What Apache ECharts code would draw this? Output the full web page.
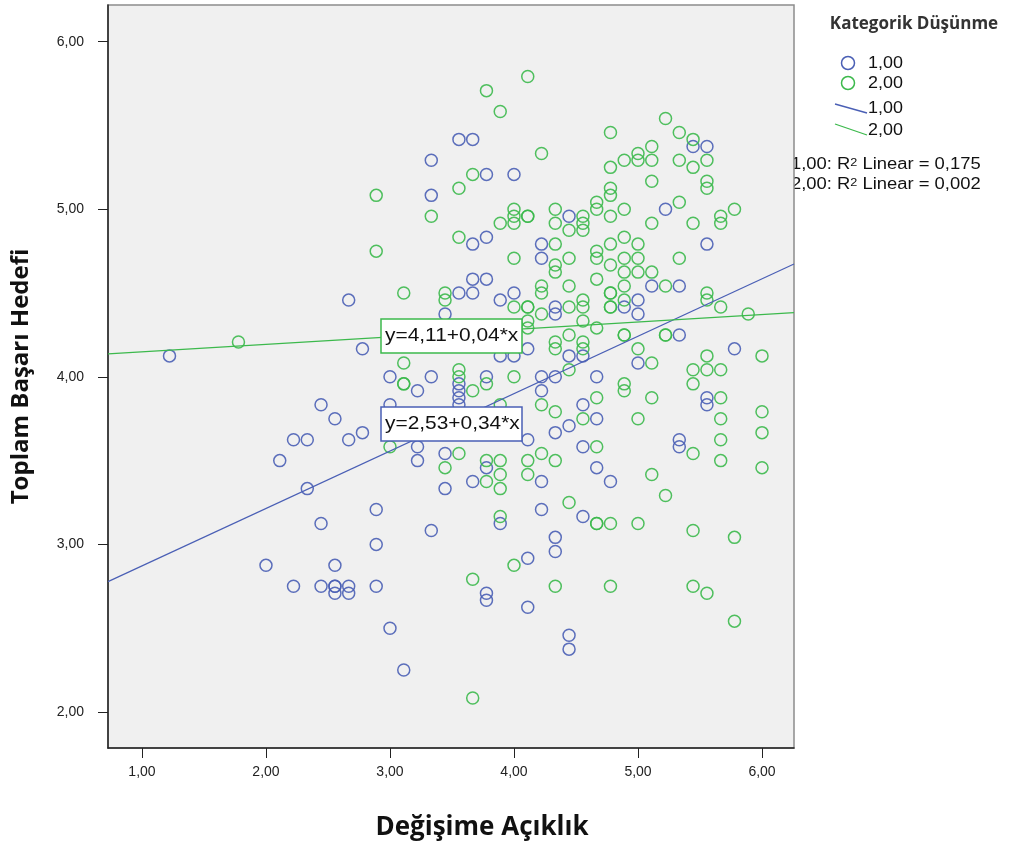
<!DOCTYPE html>
<html><head><meta charset="utf-8">
<script src="https://cdn.jsdelivr.net/npm/echarts@6/dist/echarts.min.js"></script>
<style>html,body{margin:0;padding:0;background:#fff}#c{width:1013px;height:848px}</style>
</head><body><div id="c"></div>
<script>
// ---- data ----
const xTicks = [1, 2, 3, 4, 5, 6];
const yTicks = [2, 3, 4, 5, 6];
const groupNames = ['1,00', '2,00'];
const xTitle = 'Değişime Açıklık';
const yTitle = 'Toplam Başarı Hedefi';
const legendTitle = 'Kategorik Düşünme';
const xRange = [0.726, 6.258];
const yRange = [1.785, 6.219];
// group 1 (Kategorik Düşünme = 1,00) : [Değişime Açıklık, Toplam Başarı Hedefi]
const group1 = [
[3.556,5.417],[3.667,5.417],[3.333,5.292],[3.778,5.208],[4.0,5.208],[3.333,5.083],[4.444,4.958],[3.667,4.792],[3.778,4.833],[4.222,4.792],
[5.444,5.375],[5.556,5.375],[5.222,5.0],[5.556,4.792],
[5.111,4.542],[5.333,4.542],[5.0,4.458],[4.889,4.417],[5.0,4.375],[5.333,4.25],[4.444,4.125],[4.556,4.125],[5.0,4.083],[5.778,4.167],
[4.667,4.0],[4.556,3.833],[5.556,3.875],[5.556,3.833],[4.444,3.708],[4.667,3.75],[4.556,3.583],[5.333,3.625],[5.333,3.583],[4.667,3.458],[4.778,3.375],
[4.556,3.167],[4.444,2.458],[4.444,2.375],
[2.889,3.208],[3.333,3.083],[2.889,3.0],[2.556,2.875],[2.556,2.75],[2.556,2.75],[2.556,2.708],[2.667,2.75],[2.667,2.708],[2.889,2.75],[3.0,2.5],[3.111,2.25],
[3.778,2.708],[3.778,2.667],[3.889,3.125],[4.222,3.208],[4.111,2.917],[4.111,2.625],[4.333,3.042],[4.333,2.958],
[2.444,3.125],[2.0,2.875],[2.222,2.75],[2.444,2.75],
[1.222,4.125],[2.444,3.833],[2.556,3.75],[2.222,3.625],[2.333,3.625],[2.111,3.5],[2.333,3.333],
[4.222,4.708],[3.667,4.583],[3.778,4.583],[3.556,4.5],[3.667,4.5],[2.667,4.458],[3.889,4.458],[4.0,4.5],[4.333,4.417],[4.333,4.375],[3.444,4.375],
[2.778,4.167],[3.889,4.125],[4.0,4.125],[4.111,4.167],[3.556,3.958],[3.556,3.917],[3.556,3.875],[3.556,3.833],[3.0,4.0],[3.333,4.0],[3.222,3.917],
[3.778,4.0],[4.222,4.0],[4.333,4.0],[4.222,3.917],[4.333,3.667],[3.0,3.833],[2.778,3.667],[2.667,3.625],[3.222,3.583],[3.222,3.5],[3.444,3.542],
[4.111,3.625],[3.778,3.458],[3.667,3.375],[3.444,3.333],[4.222,3.375]
];
// group 2 (Kategorik Düşünme = 2,00)
const group2 = [
[4.111,5.792],[3.778,5.708],[3.889,5.583],[4.222,5.333],[3.667,5.208],[2.889,5.083],[3.556,5.125],[3.333,4.958],[4.0,5.0],[4.0,4.958],
[4.111,4.958],[4.111,4.958],[3.889,4.917],[4.0,4.917],[4.333,5.0],[4.333,4.917],[4.444,4.875],[3.556,4.833],[2.889,4.75],[4.333,4.792],
[5.222,5.542],[4.778,5.458],[5.333,5.458],[5.444,5.417],[5.111,5.375],[5.0,5.333],[5.0,5.292],[4.889,5.292],[5.111,5.292],[5.333,5.292],
[5.444,5.25],[5.556,5.292],[4.778,5.25],[5.111,5.167],[5.556,5.167],[5.556,5.125],[4.778,5.125],[4.778,5.083],[4.667,5.042],[4.667,5.0],
[4.556,4.958],[4.556,4.917],[4.556,4.875],[4.778,4.958],[4.889,5.0],[5.333,5.042],[5.111,4.917],[5.444,4.917],[5.667,4.958],[5.667,4.917],
[5.778,5.0],[4.667,4.75],[4.778,4.792],[4.889,4.833],[5.0,4.792],
[4.444,4.708],[4.667,4.708],[4.778,4.667],[4.889,4.708],[5.0,4.708],[5.0,4.625],[4.889,4.625],[5.111,4.625],[5.333,4.708],[4.667,4.583],
[4.444,4.542],[4.889,4.542],[5.222,4.542],[4.778,4.5],[4.778,4.5],[4.778,4.417],[4.778,4.417],[4.556,4.458],[4.556,4.417],[4.444,4.417],
[4.889,4.458],[4.556,4.333],[4.667,4.292],[4.444,4.25],[4.889,4.25],[4.889,4.25],[5.222,4.25],[5.222,4.25],[5.556,4.5],[5.556,4.458],
[5.667,4.417],[5.889,4.375],[4.556,4.208],[4.556,4.167],[4.444,4.042],[5.0,4.167],[5.111,4.083],[6.0,4.125],[5.556,4.125],[5.444,4.042],
[5.556,4.042],[5.667,4.042],[5.444,3.958],[4.889,3.958],[4.889,3.917],[4.667,3.875],[5.111,3.875],[5.667,3.875],[4.556,3.75],[5.0,3.75],
[5.667,3.75],[6.0,3.792],[6.0,3.667],[4.667,3.583],[5.667,3.625],[5.444,3.542],[5.667,3.5],[5.111,3.417],[6.0,3.458],[5.222,3.292],
[4.444,3.25],[4.667,3.125],[4.667,3.125],[4.778,3.125],[5.0,3.125],[5.444,3.083],[5.778,3.042],[4.778,2.75],[5.444,2.75],[5.556,2.708],[5.778,2.542],
[3.667,2.792],[3.667,2.083],[3.889,3.167],[4.0,2.875],[4.333,2.75],
[1.778,4.208],
[4.0,4.708],[4.333,4.667],[4.333,4.625],[3.444,4.5],[3.111,4.5],[3.444,4.458],[4.0,4.417],[4.111,4.417],[4.111,4.417],[4.222,4.542],
[4.222,4.5],[4.222,4.375],[4.111,4.333],[4.111,4.292],[4.333,4.208],[4.333,4.167],[3.111,4.083],[3.556,4.042],[3.556,4.0],[3.111,3.958],
[3.111,3.958],[3.778,3.958],[3.667,3.917],[4.0,4.0],[4.222,3.833],[4.333,3.792],[3.889,3.833],[3.0,3.583],[3.444,3.458],[3.556,3.542],
[3.778,3.5],[3.778,3.375],[3.889,3.5],[3.889,3.417],[3.889,3.333],[4.111,3.5],[4.111,3.417],[4.222,3.542],[4.333,3.5]
];
// linear fits per group (intercept, slope) and labels
const fitIntercept = [2.529, 4.105];
const fitSlope = [0.3427, 0.0445];
const fitLabels = ['y=2,53+0,34*x', 'y=4,11+0,04*x'];
const r2Values = ['0,175', '0,002'];

// ---- styles ----
const BLUE = '#4a5fb5', GREEN = '#3cb94c';
const colors = [BLUE, GREEN];
const fmt = v => v.toFixed(2).replace('.', ',');
const ARIAL = '"Liberation Sans", Arial, sans-serif';
const TITLEFONT = '"Open Sans", sans-serif';

const chart = echarts.init(document.getElementById('c'), null, {renderer: 'canvas'});

function fitLine(i) {
  return [xRange[0], xRange[1]].map(x => [x, fitIntercept[i] + fitSlope[i] * x]);
}
function scatter(data, i) {
  return {
    type: 'scatter', data: data, symbol: 'circle', symbolSize: 12, z: 2,
    itemStyle: {color: 'rgba(0,0,0,0)', borderColor: colors[i], borderWidth: 1.5, opacity: 0.9},
    emphasis: {disabled: true}, silent: true
  };
}
function line(i) {
  return {
    type: 'line', data: fitLine(i), showSymbol: false, z: 3, silent: true,
    lineStyle: {color: colors[i], width: 1.2}
  };
}

const graphics = [];
// x axis title
graphics.push({type: 'text', x: 482, y: 828, style: {text: xTitle, fill: '#111',
  font: 'bold 26px ' + TITLEFONT, textAlign: 'center', textVerticalAlign: 'middle'}});
// equation labels
[[1, 319], [0, 407]].forEach(([i, y]) => {
  graphics.push({type: 'rect', z: 10, shape: {x: 381, y: y, width: 141, height: 34},
    style: {fill: '#fff', stroke: colors[i], lineWidth: 1.5}});
  graphics.push({type: 'text', z: 11, x: 385, y: y + 17, scaleX: 1.1,
    style: {text: fitLabels[i], fill: '#111', font: '19px ' + ARIAL,
      textAlign: 'left', textVerticalAlign: 'middle'}});
});
// legend
graphics.push({type: 'text', x: 914, y: 24, style: {text: legendTitle, fill: '#333',
  font: 'bold 17px ' + TITLEFONT, textAlign: 'center', textVerticalAlign: 'middle'}});
[63, 83].forEach((cy, i) => {
  graphics.push({type: 'circle', shape: {cx: 848, cy: cy, r: 6.5}, style: {fill: 'none', stroke: colors[i], lineWidth: 1.5}});
  graphics.push({type: 'text', x: 868, y: cy + 1, scaleX: 1.12, style: {text: groupNames[i], fill: '#111',
    font: '16px ' + ARIAL, textVerticalAlign: 'middle'}});
});
[[104, 113], [124, 135]].forEach(([y1, y2], i) => {
  graphics.push({type: 'line', shape: {x1: 835, y1: y1, x2: 867, y2: y2}, style: {stroke: colors[i], lineWidth: 1.3}});
  graphics.push({type: 'text', x: 868, y: y2 - 4, scaleX: 1.12, style: {text: groupNames[i], fill: '#111',
    font: '16px ' + ARIAL, textVerticalAlign: 'middle'}});
});
[165, 185].forEach((y, i) => {
  graphics.push({type: 'text', x: 791, y: y, z: -1, scaleX: 1.15, style: {
    text: groupNames[i] + ': R{sup|2} Linear = ' + r2Values[i],
    fill: '#111', font: '16px ' + ARIAL, textVerticalAlign: 'middle',
    rich: {sup: {fontSize: 11, verticalAlign: 'top', fill: '#111', fontFamily: ARIAL}}
  }});
});

chart.setOption({
  animation: false,
  backgroundColor: '#fff',
  grid: {left: 108, top: 5, width: 686, height: 743, show: true, backgroundColor: '#f0f0f0',
    borderColor: '#8c8c8c', borderWidth: 1.5, containLabel: false, outerBoundsMode: 'none'},
  xAxis: {
    type: 'value', min: xRange[0], max: xRange[1],
    axisLine: {show: true, onZero: false, lineStyle: {color: '#222', width: 1.5}},
    axisTick: {show: true, inside: false, length: 10, customValues: xTicks, lineStyle: {color: '#222'}},
    axisLabel: {customValues: xTicks, formatter: fmt, margin: 17, fontSize: 14, color: '#222', fontFamily: ARIAL},
    splitLine: {show: false}
  },
  yAxis: {
    type: 'value', min: yRange[0], max: yRange[1],
    name: yTitle, nameLocation: 'middle', nameGap: 75, nameRotate: 90,
    nameTextStyle: {fontFamily: TITLEFONT, fontWeight: 'bold', fontSize: 24, color: '#111'},
    axisLine: {show: true, onZero: false, lineStyle: {color: '#222', width: 1.5}},
    axisTick: {show: true, inside: false, length: 10, customValues: yTicks, lineStyle: {color: '#222'}},
    axisLabel: {customValues: yTicks, formatter: fmt, margin: 24, fontSize: 14, color: '#222', fontFamily: ARIAL},
    splitLine: {show: false}
  },
  series: [scatter(group1, 0), scatter(group2, 1), line(0), line(1)],
  graphic: graphics
});
</script></body></html>
